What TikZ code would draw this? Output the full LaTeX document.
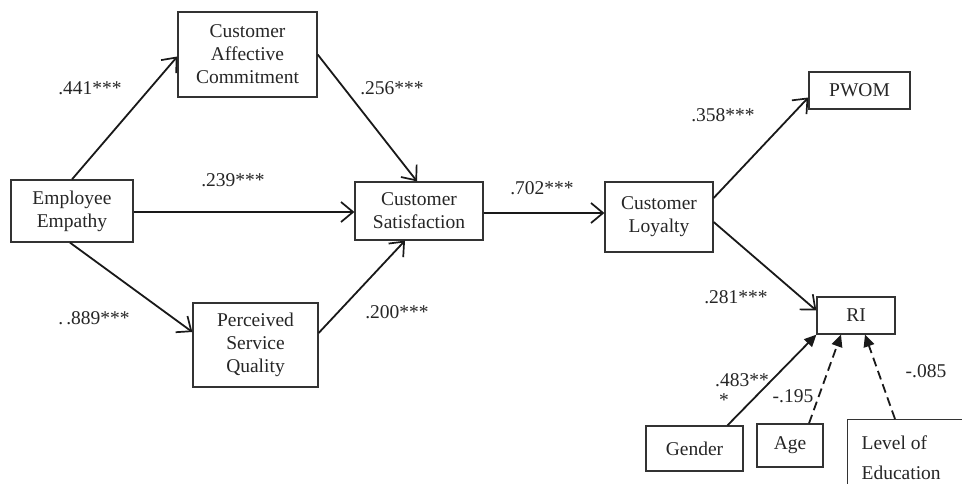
\documentclass[tikz,border=0pt]{standalone}
\usepackage{fontspec}
\setmainfont{Liberation Serif}
\usetikzlibrary{arrows.meta,calc}
\tikzset{
  box/.style={draw=black!80, line width=1.3pt, rectangle, align=center, inner sep=2pt,
    font=\fontsize{19.5}{23}\selectfont, text=black!85},
  lbl/.style={font=\fontsize{19.5}{23}\selectfont, text=black!85, inner sep=0pt},
  conn/.style={draw=black!90, line width=1.8pt, -{Straight Barb[length=12pt,width=20pt,line width=1.7pt]}},
  ctrl/.style={draw=black!90, line width=1.8pt, -{Triangle[length=12pt,width=11pt]}},
  ctrldash/.style={ctrl, dash pattern=on 9pt off 5pt}
}
\begin{document}
\begin{tikzpicture}[x=1pt,y=-1pt]
\useasboundingbox (0,0) rectangle (962,484);
\clip (0,0) rectangle (962,484);
\fill[white] (0,0) rectangle (962,484);
% boxes
\node[box, minimum width=122, minimum height=62] (ee) at (72,211) {Employee\\Empathy};
\node[box, minimum width=139, minimum height=85] (cac) at (247.5,54.5) {Customer\\Affective\\Commitment};
\node[box, minimum width=128, minimum height=58] (cs) at (419,211) {Customer\\Satisfaction};
\node[box, minimum width=125, minimum height=84] (psq) at (255.5,345) {Perceived\\Service\\Quality};
\node[box, minimum width=108, minimum height=70] (cl) at (659,217) {Customer\\Loyalty};
\node[box, minimum width=101, minimum height=37] (pwom) at (859.5,90.5) {PWOM};
\node[box, minimum width=78, minimum height=37] (ri) at (856,315.5) {RI};
\node[box, minimum width=97, minimum height=45] (gender) at (694.5,448.5) {Gender};
\node[box, minimum width=66, minimum height=43] (age) at (790,445.5) {Age};
\node[box, minimum width=170, minimum height=90, anchor=north west] (edu) at (847,419) {};
\node[box, draw=none, align=left, anchor=north west, inner sep=0pt,
  font=\fontsize{19.5}{30}\selectfont] (edutxt) at (861,435) {Level of\\Education};
% connectors
\draw[conn] (ee.north) -- ([yshift=-2pt]cac.west);
\draw[conn] (cac.east) -- ([xshift=-2pt]cs.north);
\draw[conn] ([yshift=-1pt]ee.east) -- ([yshift=-1pt]cs.west);
\draw[conn] ([xshift=-2pt]ee.south) -- ([yshift=13pt]psq.west);
\draw[conn] ([yshift=12pt]psq.east) -- ([xshift=-14pt]cs.south);
\draw[conn] ([yshift=-2pt]cs.east) -- ([yshift=-2pt]cs.east -| cl.west);
\draw[conn] ([yshift=19pt]cl.east) -- ([yshift=-7pt]pwom.west);
\draw[conn] ([yshift=-5pt]cl.east) -- ([yshift=5pt]ri.west);
\draw[ctrl] ([xshift=33pt]gender.north) -- (ri.south west);
\draw[ctrldash] ([xshift=19pt]age.north) -- ([xshift=-15pt]ri.south);
\draw[ctrldash] ([xshift=48pt]edu.north west) -- ([xshift=9pt]ri.south);
% labels
\node[lbl] (l1) at (90,88) {.441***};
\node[lbl] (l2) at (392,88) {.256***};
\node[lbl] (l3) at (233,180) {.239***};
\node[lbl] (l4) at (94,318) {.\,.889***};
\node[lbl] (l5) at (397,312) {.200***};
\node[lbl] (l6) at (542,188) {.702***};
\node[lbl] (l7) at (723,115) {.358***};
\node[lbl] (l8) at (736,297) {.281***};
\node[lbl, align=left, anchor=north west] (l9) at (715,373) {.483**\\[-3pt]\hspace{4pt}*};
\node[lbl] (l10) at (793,396) {-.195};
\node[lbl] (l11) at (926,371) {-.085};
\end{tikzpicture}
\end{document}
